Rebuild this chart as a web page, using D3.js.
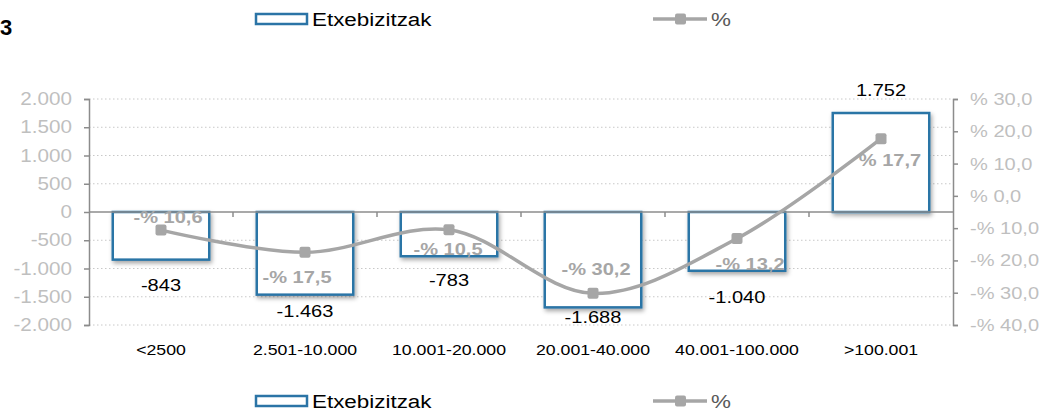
<!DOCTYPE html>
<html>
<head>
<meta charset="utf-8">
<script src="https://cdn.jsdelivr.net/npm/d3@7"></script>
<style>
  body { margin: 0; background: #fff; }
  text { font-family: Arial, "Liberation Sans", sans-serif; }
</style>
</head>
<body>
<div id="chart"></div>
<script>
// data
var categories = ["<2500", "2.501-10.000", "10.001-20.000", "20.001-40.000", "40.001-100.000", ">100.001"];
var dwellings = [-843, -1463, -783, -1688, -1040, 1752];
var percents = [-10.6, -17.5, -10.5, -30.2, -13.2, 17.7];
var leftTicks = [-2000, -1500, -1000, -500, 0, 500, 1000, 1500, 2000];
var rightTicks = [-40, -30, -20, -10, 0, 10, 20, 30];

// where excel put the labels (layout only)
var pctLabelShift = [[7, -13], [-8, 25], [-1, 19], [3, -24], [13, 26], [9, 21]];
var valLabelShift = [25, 16, 24, 10, 26, -23];

var W = 1043, H = 412;
var SX = 1.18; // the original text is a bit wider than Arial
var margin = {top: 99, right: 90, bottom: 87, left: 89};
var width = W - margin.left - margin.right,
    height = H - margin.top - margin.bottom;

var loc = d3.formatLocale({decimal: ",", thousands: ".", grouping: [3], currency: ["", ""], minus: "-"});
var fmtN = loc.format(",d");
function fmtPct(v, dec) {
  var s = loc.format("." + dec + "f")(Math.abs(v));
  return (v < 0 ? "-% " : "% ") + s;
}

// widen text around its anchor point
function stretch(sel) {
  sel.each(function() {
    var t = d3.select(this);
    var tx = +t.attr("x") || 0, ty = +t.attr("y") || 0;
    t.attr("x", 0).attr("y", 0)
      .attr("transform", "translate(" + tx + "," + ty + ") scale(" + SX + ",1)");
  });
}

var svg = d3.select("#chart").append("svg")
  .attr("width", W).attr("height", H);

var defs = svg.append("defs");
var f = defs.append("filter").attr("id", "shadow")
  .attr("x", "-20%").attr("y", "-20%").attr("width", "150%").attr("height", "150%");
f.append("feDropShadow").attr("dx", 1.5).attr("dy", 2.5).attr("stdDeviation", 2)
  .attr("flood-color", "#000").attr("flood-opacity", 0.35);

var g = svg.append("g")
  .attr("transform", "translate(" + margin.left + "," + margin.top + ")");

var x = d3.scaleBand().domain(categories).range([0, width]).paddingInner(0.33).paddingOuter(0.165);
var xb = d3.scaleBand().domain(categories).range([0, width]); // for tick boundaries
var y = d3.scaleLinear().domain([-2000, 2000]).range([height, 0]);
var y2 = d3.scaleLinear().domain([-40, 30]).range([height, 0]);

// gridlines
g.selectAll(".grid").data(leftTicks.filter(function(d) { return d !== 0; }))
  .enter().append("line")
  .attr("x1", 0).attr("x2", width)
  .attr("y1", function(d) { return y(d); }).attr("y2", function(d) { return y(d); })
  .attr("stroke", "#c8c8c8").attr("stroke-width", 1).attr("stroke-dasharray", "1.5,2.5");

// left axis
var axL = g.append("g")
  .call(d3.axisLeft(y).tickValues(leftTicks).tickFormat(fmtN).tickSize(5).tickPadding(12));
axL.select(".domain").attr("stroke", "#8c8c8c").attr("stroke-width", 1.5);
axL.selectAll(".tick line").attr("stroke", "#8c8c8c").attr("stroke-width", 1.5);
axL.selectAll(".tick text").attr("fill", "#bfbfbf").style("font-size", "17.5px").call(stretch);

// right axis
var axR = g.append("g").attr("transform", "translate(" + width + ",0)")
  .call(d3.axisRight(y2).tickValues(rightTicks).tickFormat(function(d) { return fmtPct(d, 1); }).tickSize(5).tickPadding(12));
axR.select(".domain").attr("stroke", "#8c8c8c").attr("stroke-width", 1.5);
axR.selectAll(".tick line").attr("stroke", "#8c8c8c").attr("stroke-width", 1.5);
axR.selectAll(".tick text").attr("fill", "#bfbfbf").style("font-size", "17px").call(stretch);

// bars
g.selectAll(".bar").data(dwellings).enter().append("rect")
  .attr("x", function(d, i) { return x(categories[i]); })
  .attr("y", function(d) { return y(Math.max(0, d)); })
  .attr("width", x.bandwidth())
  .attr("height", function(d) { return Math.abs(y(d) - y(0)); })
  .attr("fill", "#fff").attr("stroke", "#2b74a6").attr("stroke-width", 2.5)
  .attr("filter", "url(#shadow)");

// zero line + category ticks
g.append("line").attr("x1", 0).attr("x2", width).attr("y1", y(0)).attr("y2", y(0))
  .attr("stroke", "#8c8c8c").attr("stroke-width", 1.5);
g.selectAll(".xtick").data(categories.slice(1)).enter().append("line")
  .attr("x1", function(d) { return xb(d); }).attr("x2", function(d) { return xb(d); })
  .attr("y1", y(0)).attr("y2", y(0) + 5)
  .attr("stroke", "#8c8c8c").attr("stroke-width", 1.5);

// category labels
g.selectAll(".xlab").data(categories).enter().append("text")
  .attr("x", function(d) { return xb(d) + xb.bandwidth() / 2; })
  .attr("y", height + 30)
  .attr("text-anchor", "middle").style("font-size", "15px").attr("fill", "#000")
  .text(function(d) { return d; })
  .call(stretch);

// bar value labels
g.selectAll(".vlab").data(dwellings).enter().append("text")
  .attr("x", function(d, i) { return x(categories[i]) + x.bandwidth() / 2; })
  .attr("y", function(d, i) { return y(d) + valLabelShift[i] + 6; })
  .attr("text-anchor", "middle").style("font-size", "17px").attr("fill", "#000")
  .text(function(d) { return fmtN(d); })
  .call(stretch);

// line
var cx = function(i) { return x(categories[i]) + x.bandwidth() / 2; };
var line = d3.line()
  .x(function(d, i) { return cx(i); })
  .y(function(d) { return y2(d); })
  .curve(d3.curveCatmullRom.alpha(0.5));

g.append("path").datum(percents)
  .attr("d", line).attr("fill", "none")
  .attr("stroke", "#a6a6a6").attr("stroke-width", 3.5);

g.selectAll(".mk").data(percents).enter().append("rect")
  .attr("x", function(d, i) { return cx(i) - 5.5; })
  .attr("y", function(d) { return y2(d) - 5.5; })
  .attr("width", 11).attr("height", 11).attr("rx", 2)
  .attr("fill", "#a6a6a6");

// % labels
g.selectAll(".plab").data(percents).enter().append("text")
  .attr("x", function(d, i) { return cx(i) + pctLabelShift[i][0]; })
  .attr("y", function(d, i) { return y2(d) + pctLabelShift[i][1] + 6; })
  .attr("text-anchor", "middle").style("font-size", "17px").style("font-weight", "bold")
  .attr("fill", "#a6a6a6")
  .text(function(d) { return fmtPct(d, 1); })
  .call(stretch);

// title fragment
svg.append("text").attr("x", 0).attr("y", 35)
  .style("font-size", "22px").style("font-weight", "bold").text("3");

// legends (top and bottom)
function legend(yc) {
  var lg = svg.append("g");
  lg.append("rect").attr("x", 256).attr("y", yc - 5).attr("width", 51).attr("height", 10)
    .attr("fill", "#fff").attr("stroke", "#2b74a6").attr("stroke-width", 2.5);
  lg.append("text").attr("x", 312).attr("y", yc + 7).style("font-size", "19px").text("Etxebizitzak").call(stretch);
  lg.append("line").attr("x1", 653).attr("x2", 707).attr("y1", yc).attr("y2", yc)
    .attr("stroke", "#a6a6a6").attr("stroke-width", 3.5);
  lg.append("rect").attr("x", 675).attr("y", yc - 5.5).attr("width", 11).attr("height", 11).attr("rx", 2)
    .attr("fill", "#a6a6a6");
  lg.append("text").attr("x", 711).attr("y", yc + 7).style("font-size", "19px").attr("fill", "#595959").text("%").call(stretch);
}
legend(19);
legend(401);
</script>
</body>
</html>
